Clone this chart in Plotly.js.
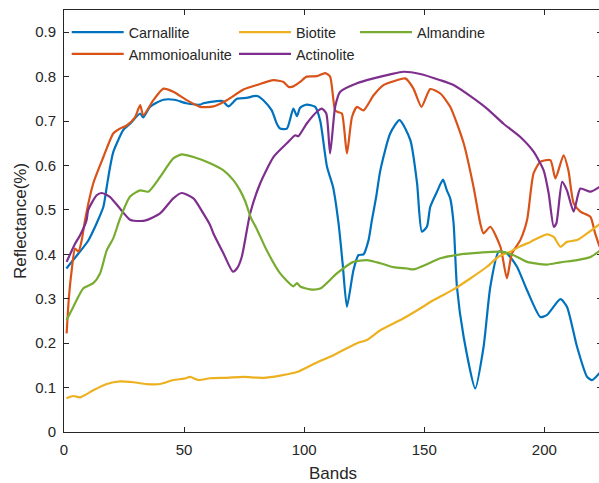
<!DOCTYPE html>
<html>
<head>
<meta charset="utf-8">
<script src="https://cdn.plot.ly/plotly-3.0.1.min.js"></script>
<style>html,body{margin:0;padding:0;overflow:hidden;background:#fff;}#chart{width:602px;height:483px;}</style>
</head>
<body>
<div id="chart"></div>
<script>
// Carnallite
const carnBands = [1,5,10,13.6,16.4,17.8,19.2,20.5,22,24.7,27.5,31.7,33,35.8,41.4,46,51,56.7,58,63.6,66,68.5,72,76,78.9,80.8,83,86.5,88.6,90,92.8,95.5,97,98.3,101,104.6,106.7,109.5,112,114.3,116,117.8,120.5,122.6,124.7,126.8,128.2,130,131.7,135.8,139.7,144.2,147,149,151.1,152.5,155.3,157.8,159.4,160.8,162.2,163.6,166.4,171.2,174.7,177.5,181,184.4,188.6,192.8,198.3,201,206.7,209.4,213.6,217.8,219.9,223];
const carnVals = [0.368,0.395,0.43,0.47,0.507,0.552,0.597,0.63,0.65,0.68,0.694,0.717,0.708,0.732,0.748,0.748,0.74,0.737,0.74,0.745,0.745,0.733,0.75,0.752,0.756,0.756,0.747,0.724,0.694,0.683,0.683,0.728,0.711,0.73,0.737,0.732,0.70,0.597,0.552,0.47,0.38,0.282,0.364,0.398,0.40,0.432,0.477,0.53,0.589,0.672,0.702,0.657,0.56,0.451,0.462,0.507,0.541,0.568,0.544,0.526,0.47,0.327,0.214,0.098,0.192,0.327,0.406,0.402,0.372,0.319,0.259,0.263,0.299,0.282,0.192,0.124,0.117,0.133];

// Ammonioalunite
const ammoBands = [1.1,2,3.2,4.6,6,7.4,8.75,12.2,16.4,20.5,23,26.1,29.6,31.7,33,37.2,41.4,45.5,51.1,56.7,62.2,67.8,74.7,80.3,87.2,91.4,93.5,95.5,98.3,101,105.3,108.75,110.8,112.9,114.3,115.7,117.8,119.9,122,124.7,128.9,133,138.6,142.1,145.5,148.8,152.5,156.7,160.8,166.4,170.5,173.3,174.7,177.5,181.7,184.4,186.5,190,192.8,195.5,198.3,202.5,204.6,208,210,212.2,215,219.2,221,223];
const ammoVals = [0.222,0.30,0.364,0.413,0.406,0.432,0.477,0.56,0.619,0.672,0.682,0.69,0.709,0.736,0.713,0.747,0.773,0.766,0.747,0.732,0.733,0.747,0.771,0.781,0.792,0.788,0.777,0.778,0.788,0.80,0.801,0.808,0.80,0.724,0.72,0.717,0.627,0.709,0.732,0.724,0.758,0.781,0.792,0.796,0.773,0.732,0.772,0.762,0.732,0.65,0.552,0.47,0.447,0.462,0.417,0.346,0.402,0.432,0.477,0.582,0.608,0.612,0.571,0.623,0.589,0.515,0.496,0.484,0.45,0.417];

// Biotite
const bioBands = [1,3.9,6.7,12.2,17.8,23.3,28.9,34.4,40,45.5,50,52.5,56,60.8,67.8,74.7,83,90,97,103.9,112.2,122,126.1,131.7,141.4,148.3,153.9,162.2,169,176.1,181,185.8,190,194.2,201,203.9,206.7,209.4,213.6,217.8,223];
const bioVals = [0.076,0.081,0.078,0.094,0.108,0.114,0.112,0.108,0.108,0.117,0.12,0.124,0.117,0.121,0.122,0.124,0.122,0.127,0.135,0.153,0.173,0.2,0.207,0.229,0.256,0.278,0.297,0.321,0.345,0.372,0.395,0.406,0.418,0.428,0.445,0.439,0.417,0.428,0.432,0.447,0.468];

// Actinolite
const actBands = [1.1,4.6,6.7,9.4,10.1,13.6,15.7,19.2,23.3,27.5,31.7,34.4,40,45.5,49,53.9,58,60.8,62.2,66.4,70.3,72,74,77.5,81.7,87.2,92.8,96.25,97.6,101,105.3,107.4,109.2,110.8,112.9,115,122,128.9,135.8,141.4,148.3,156.7,162.2,169.2,176.1,183,190,195.5,199.7,201.8,203.9,205,207.4,209.4,212.2,215,219.2,223];
const actVals = [0.383,0.424,0.443,0.477,0.50,0.533,0.538,0.529,0.503,0.478,0.475,0.477,0.492,0.526,0.538,0.526,0.492,0.466,0.447,0.402,0.361,0.368,0.394,0.492,0.56,0.619,0.65,0.668,0.666,0.694,0.721,0.728,0.717,0.627,0.732,0.766,0.785,0.796,0.805,0.811,0.806,0.792,0.781,0.756,0.728,0.694,0.664,0.631,0.589,0.537,0.462,0.47,0.563,0.544,0.496,0.548,0.541,0.552];

// Almandine
const almBands = [1.1,3.9,8,12.2,15,17.8,20.5,23.3,27.5,31.7,35.1,40,45.5,49,53.9,60.8,66.4,70.5,73.3,75.4,78,80,84.4,90,95.5,97,98.5,102.5,106.7,113.6,120.5,126.1,131.7,137.2,142.8,145.5,150.4,156.7,165,173.3,181.7,187.2,192.8,201,206.7,213.6,219.2,223];
const almVals = [0.252,0.282,0.323,0.335,0.357,0.409,0.436,0.48,0.53,0.544,0.541,0.574,0.616,0.625,0.619,0.605,0.589,0.567,0.544,0.52,0.48,0.46,0.409,0.357,0.328,0.335,0.327,0.321,0.323,0.357,0.383,0.387,0.38,0.371,0.368,0.366,0.376,0.391,0.40,0.404,0.406,0.398,0.383,0.377,0.382,0.387,0.394,0.408];

const names = ['Carnallite','Ammonioalunite','Biotite','Actinolite','Almandine'];
const colors = ['#0072BD','#D95319','#EDB120','#7E2F8E','#77AC30'];
const legendIds = ['legend','legend','legend2','legend2','legend3'];
const series = [[carnBands,carnVals],[ammoBands,ammoVals],[bioBands,bioVals],[actBands,actVals],[almBands,almVals]];

const font = 'Liberation Sans, Arial, sans-serif';
const dark = '#262626';

const traces = series.map((s,i)=>({
  x: s[0], y: s[1], type:'scatter', mode:'lines', name: names[i],
  line:{color:colors[i], width:2.2, shape:'spline', smoothing:0.6}, legend: legendIds[i], legendgroup: 'g'+i
}));

const legendBase = {bgcolor:'rgba(0,0,0,0)', borderwidth:0, font:{family:font, size:14.4, color:dark},
  itemwidth:52, tracegroupgap:0, yanchor:'top', xanchor:'left', traceorder:'normal'};

const layout = {
  width:602, height:483,
  margin:{l:64, r:0, t:10, b:51},
  paper_bgcolor:'#fff', plot_bgcolor:'#fff',
  font:{family:font, size:15, color:dark},
  xaxis:{range:[0,224], tickvals:[0,50,100,150,200], ticks:'inside', ticklen:5, tickcolor:dark,
    showline:true, linecolor:dark, linewidth:1, mirror:'ticks', showgrid:false, zeroline:false,
    ticklabelstandoff:4,
    tickfont:{family:font,size:15,color:dark},
    title:{text:'Bands', font:{family:font,size:17,color:dark}, standoff:10}},
  yaxis:{range:[0,0.95], dtick:0.1, tick0:0, ticks:'inside', ticklen:5, tickcolor:dark,
    showline:true, linecolor:dark, linewidth:1, mirror:'ticks', showgrid:false, zeroline:false,
    ticklabelstandoff:4,
    tickfont:{family:font,size:15,color:dark},
    title:{text:'Reflectance(%)', font:{family:font,size:17,color:dark}, standoff:4}},
  legend: Object.assign({}, legendBase, {x:0.005, y:0.985}),
  legend2: Object.assign({}, legendBase, {x:0.316, y:0.985}),
  legend3: Object.assign({}, legendBase, {x:0.541, y:0.985}),
  showlegend:true
};

Plotly.newPlot('chart', traces, layout, {displayModeBar:false, staticPlot:true});
</script>
</body>
</html>
